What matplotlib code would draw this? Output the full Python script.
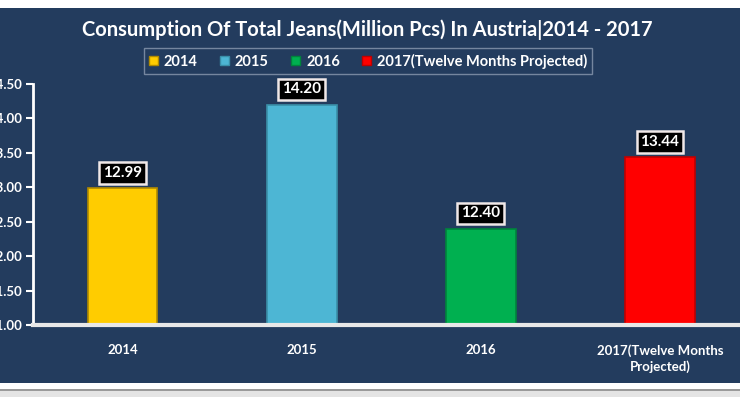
import matplotlib
matplotlib.use("Agg")
import matplotlib.pyplot as plt
from matplotlib.patches import Rectangle, Patch

categories = ["2014", "2015", "2016", "2017(Twelve Months\nProjected)"]
legend_labels = ["2014", "2015", "2016", "2017(Twelve Months Projected)"]
values = [12.99, 14.20, 12.40, 13.44]
colors = ["#ffcc00", "#4db6d4", "#00b050", "#ff0000"]
edge_colors = ["#b08a00", "#3a8fa8", "#00843c", "#c00000"]
yticks = [11.00, 11.50, 12.00, 12.50, 13.00, 13.50, 14.00, 14.50]

plt.rcParams['font.family'] = ['Lato', 'DejaVu Sans']
navy = "#233c5e"

fig = plt.figure(figsize=(7.4, 3.97), dpi=100)
fig.patch.set_facecolor("white")
H = 397.0
# navy panel
fig.patches.append(Rectangle((0, (H - 383) / H), 1, (383 - 8) / H,
                             transform=fig.transFigure, facecolor=navy,
                             edgecolor="none", zorder=-5))
# bottom grey line
fig.patches.append(Rectangle((0, (H - 391) / H), 1, 2 / H,
                             transform=fig.transFigure, facecolor="#9a9a9a",
                             edgecolor="none", zorder=-5))
fig.patches.append(Rectangle((0, 0), 1, (H - 391) / H,
                             transform=fig.transFigure, facecolor="#e4e4e4",
                             edgecolor="none", zorder=-5))

ax = fig.add_axes([33 / 740, (H - 325) / H, 716.5 / 740, (325 - 84) / H])
ax.set_zorder(2)
ax.set_facecolor("none")
x = list(range(len(categories)))
ax.bar(x, values, width=0.39, color=colors, edgecolor=edge_colors,
       linewidth=1.2, zorder=2)
ax.set_xlim(-0.5, 3.5)
ax.set_ylim(11.0, 14.5)
ax.set_yticks(yticks)
ax.set_yticklabels([f"{v:.2f}" for v in yticks], color="white",
                   fontsize=9.5, fontweight="bold")
ax.set_xticks(x)
ax.set_xticklabels(categories, color="white", fontsize=9.5, fontweight="bold",
                   linespacing=1.3)
ax.tick_params(axis="x", length=0, pad=14)
ax.tick_params(axis="y", length=5, width=1.5, color="white", pad=3)
for s in ["top", "right"]:
    ax.spines[s].set_visible(False)
ax.spines["left"].set_color("white")
ax.spines["left"].set_linewidth(2)
ax.spines["bottom"].set_color("#e8e8e8")
ax.spines["bottom"].set_linewidth(3)

for xi, v in zip(x, values):
    ax.annotate(f"{v:.2f}", (xi, v), xytext=(0, 11), textcoords="offset points",
                ha="center", va="center", color="white", fontsize=11,
                fontweight="bold", zorder=5,
                bbox=dict(boxstyle="square,pad=0.25", fc="black",
                          ec="#f0e8e8", lw=1.8))

fig.text(0.496, (H - 30) / H,
         "Consumption Of Total Jeans(Million Pcs) In Austria|2014 - 2017",
         ha="center", va="center", color="white", fontsize=14.5,
         fontweight="bold")

handles = [Patch(facecolor=c, edgecolor=e, linewidth=1) for c, e in zip(colors, edge_colors)]
leg = fig.legend(handles, legend_labels, loc="center",
                 bbox_to_anchor=(368 / 740, (H - 61) / H), ncol=4,
                 frameon=True, fancybox=False, fontsize=10.5,
                 handlelength=0.65, handleheight=0.65, handletextpad=0.4,
                 columnspacing=1.5, borderpad=0.35)
leg.get_frame().set_facecolor("none")
leg.get_frame().set_edgecolor("#8a9ab0")
leg.get_frame().set_linewidth(1)
for t in leg.get_texts():
    t.set_color("white")
    t.set_fontweight("bold")

fig.savefig("out.png", dpi=100, facecolor=fig.get_facecolor())
